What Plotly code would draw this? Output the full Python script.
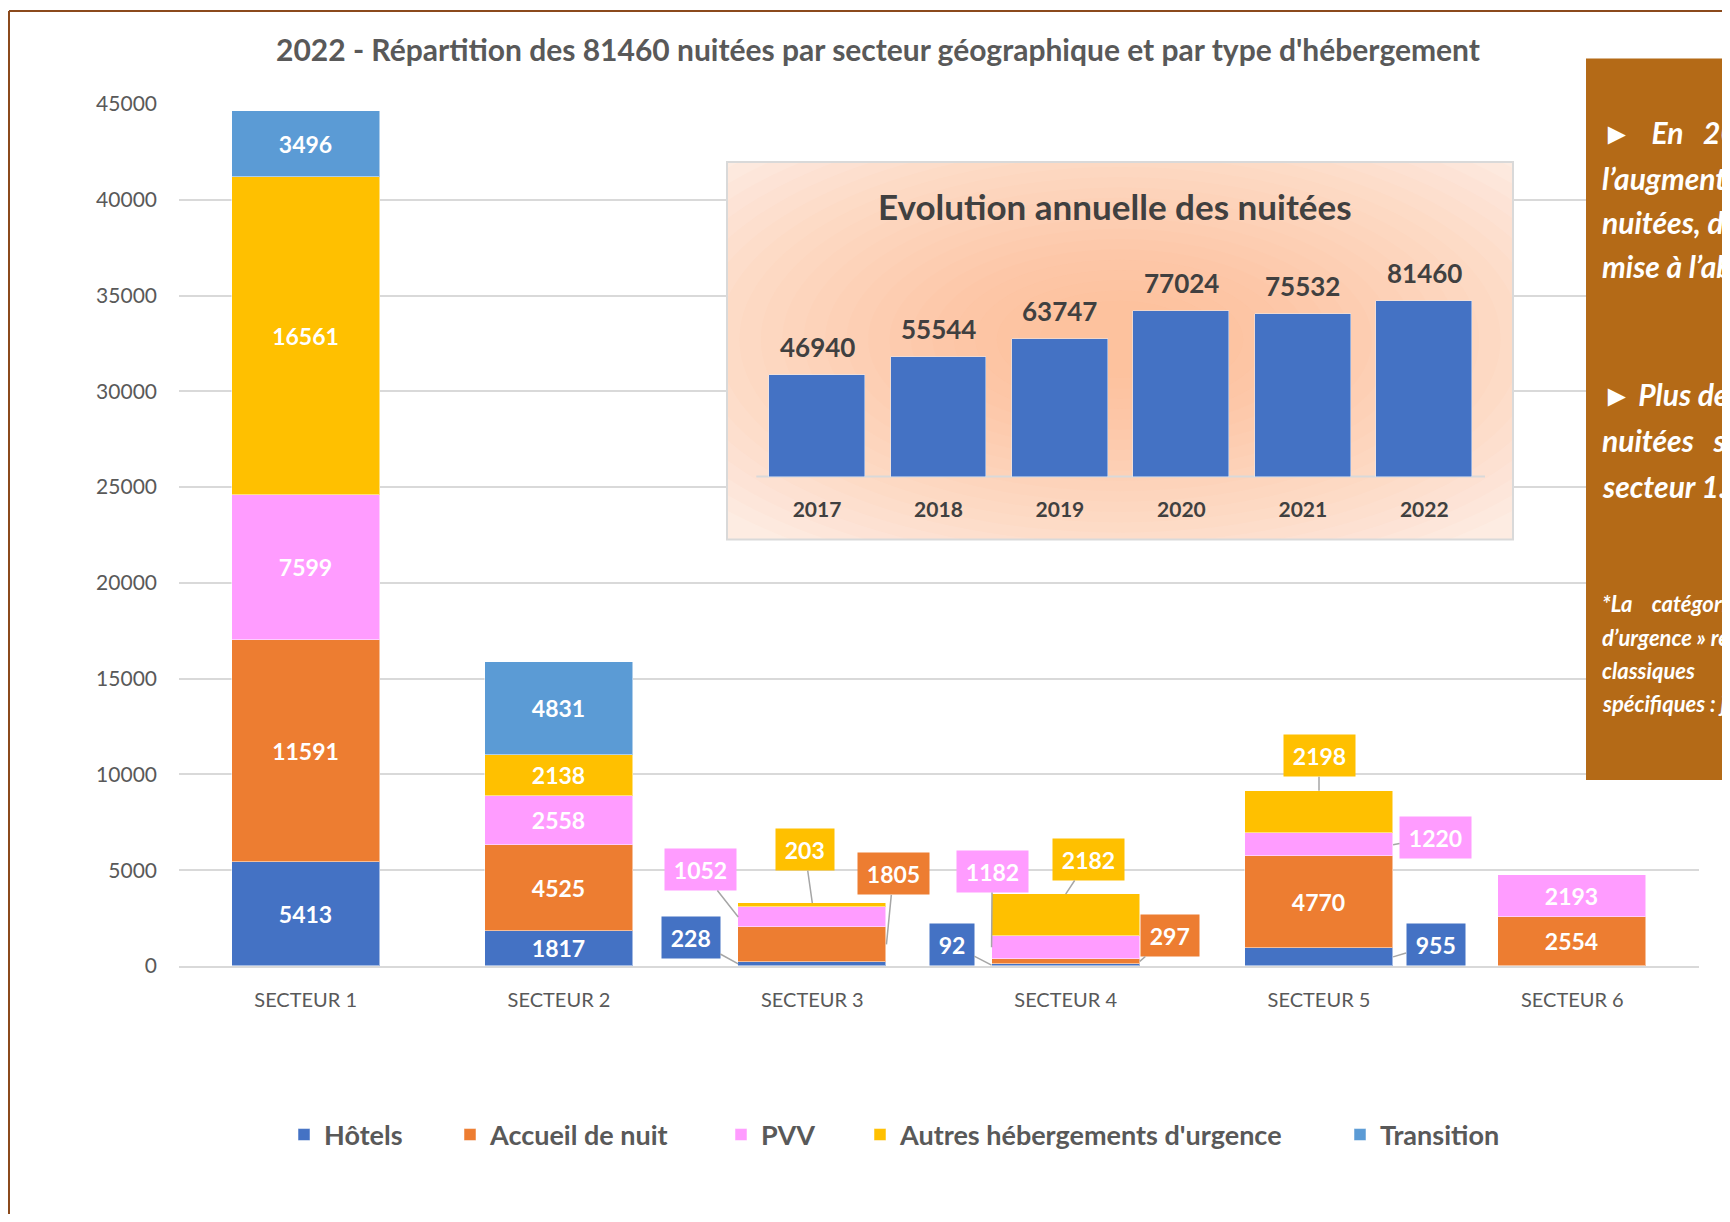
import plotly.graph_objects as go

# ------------------------------------------------------------------ data
categories = ["SECTEUR 1", "SECTEUR 2", "SECTEUR 3", "SECTEUR 4", "SECTEUR 5", "SECTEUR 6"]
hotels = [5413, 1817, 228, 92, 955, 0]
accueil_nuit = [11591, 4525, 1805, 297, 4770, 2554]
pvv = [7599, 2558, 1052, 1182, 1220, 2193]
autres_urgence = [16561, 2138, 203, 2182, 2198, 0]
transition = [3496, 4831, 0, 0, 0, 0]
series_names = ["Hôtels", "Accueil de nuit", "PVV", "Autres hébergements d'urgence", "Transition"]

years = ["2017", "2018", "2019", "2020", "2021", "2022"]
annual_nights = [46940, 55544, 63747, 77024, 75532, 81460]

y_ticks = [0, 5000, 10000, 15000, 20000, 25000, 30000, 35000, 40000, 45000]

panel_lines = [
    "►\u00a0\u00a0\u00a0En\u00a0\u00a0\u00a02022,\u00a0\u00a0\u00a0on\u00a0\u00a0\u00a0constate",
    "l’augmentation du nombre de",
    "nuitées, due notamment à la",
    "mise à l’abri hivernale.",
    "►\u00a0Plus de la moitié des",
    "nuitées\u00a0\u00a0\u00a0se\u00a0\u00a0\u00a0situent\u00a0\u00a0dans\u00a0\u00a0le",
    "secteur 1.",
]
note_lines = [
    "*La\u00a0\u00a0\u00a0\u00a0catégorie\u00a0\u00a0« Autres hébergements",
    "d’urgence » regroupe les hôtels",
    "classiques\u00a0\u00a0\u00a0\u00a0\u00a0\u00a0\u00a0\u00a0\u00a0\u00a0\u00a0et les hébergements",
    "spécifiques : jeunes, familles…",
]

# ------------------------------------------------------------------ style / geometry
OFF = 8                      # page margin of the html body
FW, FH = 1730 - OFF, 1222 - 2 * OFF
FONT = "Lato, 'Noto Sans', sans-serif"
GREY = "#595959"
DARK = "#404040"
GRID = "#D9D9D9"
colors = ["#4472C4", "#ED7D31", "#FF9CFF", "#FFC000", "#5B9BD5"]
legend_ids = ["legend", "legend2", "legend3", "legend4", "legend5"]
legend_sq_left = [298, 464, 735, 874, 1354]
BAR_W = 0.585


def fx(p):
    return (p - OFF) / FW


def fy(p):
    return 1 - (p - OFF) / FH


# callout labels: (series index, category index) -> (anchor side, box dx, box y in data units)
callouts = {
    (0, 2): ("left", -0.48, 1470),
    (2, 2): ("left", -0.44, 5040),
    (3, 2): ("top", -0.03, 6080),
    (1, 2): ("right", 0.32, 4810),
    (0, 3): ("left", -0.45, 1130),
    (2, 3): ("left", -0.29, 4930),
    (3, 3): ("top", 0.09, 5560),
    (1, 3): ("right", 0.41, 1590),
    (3, 4): ("top", 0.0, 10970),
    (2, 4): ("right", 0.46, 6710),
    (0, 4): ("right", 0.46, 1130),
}

series = [hotels, accueil_nuit, pvv, autres_urgence, transition]
total = sum(sum(s) for s in series)

fig = go.Figure()

# ------------------------------------------------------------------ main stacked bars
for k, (name, vals) in enumerate(zip(series_names, series)):
    text = ["" if ((k, i) in callouts or v == 0) else str(v) for i, v in enumerate(vals)]
    fig.add_trace(go.Bar(
        x=categories, y=[v if v else None for v in vals], name=name,
        marker=dict(color=colors[k], line=dict(color="rgba(255,255,255,0.5)", width=1)),
        width=BAR_W, text=text, textposition="inside", insidetextanchor="middle",
        textangle=0, constraintext="none",
        textfont=dict(family=FONT, size=23, color="white", weight="bold"),
        legend=legend_ids[k], hoverinfo="x+y+name",
    ))

annotations = []
for (k, i), (side, dx, by) in callouts.items():
    v = series[k][i]
    below = sum(series[j][i] for j in range(k))
    if side == "left":
        px, py = i - BAR_W / 2, below + v / 2
    elif side == "right":
        px, py = i + BAR_W / 2, below + v / 2
    else:
        px, py = i, below + v
    annotations.append(dict(
        x=px, y=py, xref="x", yref="y", ax=i + dx, ay=by, axref="x", ayref="y",
        text=str(v), showarrow=True, arrowhead=0, arrowwidth=1.5, arrowcolor="#A6A6A6",
        standoff=0, bgcolor=colors[k], borderpad=6, width=13.5 * len(str(v)) + 5, height=29,
        font=dict(family=FONT, size=23, color="white", weight="bold"),
    ))

# ------------------------------------------------------------------ inset (annual evolution)
box_l, box_r, box_t, box_b = 727, 1513, 162, 539.5
cat_px = 121.45
x_left_cat = 756.3           # pixel of category edge -0.5
base_px = 476.6              # pixel of inset baseline
val_px = 0.0021557           # pixels per unit in inset
xr0 = -0.5 - (x_left_cat - box_l) / cat_px
xr1 = xr0 + (box_r - box_l) / cat_px
yr0 = -(box_b - base_px) / val_px
yr1 = (base_px - box_t) / val_px

fig.add_trace(go.Bar(
    x=years, y=annual_nights, xaxis="x2", yaxis="y2", width=0.79,
    marker=dict(color="#4472C4"), showlegend=False, hoverinfo="x+y",
))
for i, v in enumerate(annual_nights):
    annotations.append(dict(
        x=i, y=v, xref="x2", yref="y2", text=str(v), showarrow=False,
        yanchor="middle", yshift=28,
        font=dict(family=FONT, size=26, color=DARK, weight="bold"),
    ))
annotations.append(dict(
    x=fx(1115), y=fy(206), xref="paper", yref="paper", text="Evolution annuelle des nuitées",
    showarrow=False, xanchor="center", yanchor="middle",
    font=dict(family=FONT, size=35, color=DARK, weight="bold"),
))

shapes = []
# inset background with a soft radial glow
shapes.append(dict(type="rect", xref="x2", yref="y2", x0=xr0, x1=xr1, y0=yr0, y1=yr1,
                   fillcolor="#FDECE2", line=dict(width=0), layer="below"))
cx, cy = (xr0 + xr1) / 2, (yr0 + yr1) / 2 + 0.03 * (yr1 - yr0)
n_glow = 22
for n in range(n_glow):
    s = 1.35 - n * (1.2 / n_glow)
    hw, hh = s * (xr1 - xr0) / 2, s * (yr1 - yr0) / 2
    shapes.append(dict(type="circle", xref="x2", yref="y2", x0=cx - hw, x1=cx + hw,
                       y0=cy - hh, y1=cy + hh, fillcolor="#F8AE7C", opacity=0.035,
                       line=dict(width=0), layer="below"))
shapes.append(dict(type="line", xref="x2", yref="y2", x0=-0.5, x1=5.5, y0=0, y1=0,
                   line=dict(color=GRID, width=2), layer="below"))
shapes.append(dict(type="rect", xref="paper", yref="paper", x0=fx(box_l), x1=fx(box_r),
                   y0=fy(box_b), y1=fy(box_t), line=dict(color=GRID, width=2),
                   fillcolor="rgba(0,0,0,0)", layer="above"))

# ------------------------------------------------------------------ side panel
shapes.append(dict(type="rect", xref="paper", yref="paper", x0=fx(1586), x1=1.05,
                   y0=fy(780), y1=fy(58.5), fillcolor="#B46A17", line=dict(width=0), layer="above"))
panel_y = [132, 177.5, 222, 266, 394, 440, 486]
for txt, ypx in zip(panel_lines, panel_y):
    annotations.append(dict(
        x=fx(1600), y=fy(ypx), xref="paper", yref="paper", text=txt, showarrow=False,
        xanchor="left", yanchor="middle",
        font=dict(family=FONT, size=30, color="white", weight="bold", style="italic"),
    ))
note_y = [603, 637, 670, 703]
for txt, ypx in zip(note_lines, note_y):
    annotations.append(dict(
        x=fx(1600), y=fy(ypx), xref="paper", yref="paper", text=txt, showarrow=False,
        xanchor="left", yanchor="middle",
        font=dict(family=FONT, size=22, color="white", weight="bold", style="italic"),
    ))

# outer frame (top and left edges)
shapes.append(dict(type="line", xref="paper", yref="paper", x0=fx(9), x1=1.0, y0=fy(11), y1=fy(11),
                   line=dict(color="#8B4A1C", width=2), layer="above"))
shapes.append(dict(type="line", xref="paper", yref="paper", x0=fx(9), x1=fx(9), y0=0, y1=fy(11),
                   line=dict(color="#8B4A1C", width=2), layer="above"))

# ------------------------------------------------------------------ layout
layout = dict(
    width=FW, height=FH, autosize=False,
    margin=dict(l=0, r=0, t=0, b=0),
    paper_bgcolor="white", plot_bgcolor="white",
    barmode="stack", bargap=0,
    font=dict(family=FONT, color=GREY),
    title=dict(
        text=f"2022 - Répartition des {total} nuitées par secteur géographique et par type d'hébergement",
        x=fx(878), y=fy(50), xref="paper", yref="paper", xanchor="center", yanchor="middle",
        font=dict(family=FONT, size=30, color=GREY, weight="bold"),
    ),
    xaxis=dict(
        domain=[fx(179), fx(1699)], range=[-0.5, 5.5], type="category",
        showline=True, linecolor=GRID, linewidth=2, showgrid=False, zeroline=False,
        ticks="", ticklabelstandoff=15, automargin=False,
        tickfont=dict(family=FONT, size=20, color=GREY),
    ),
    yaxis=dict(
        domain=[fy(966), fy(104)], range=[0, 45000], tickvals=y_ticks, tickformat="d",
        showgrid=True, gridcolor=GRID, gridwidth=2, zeroline=False, showline=False,
        ticks="", ticklabelstandoff=21, automargin=False,
        tickfont=dict(family=FONT, size=21, color=GREY),
    ),
    xaxis2=dict(
        domain=[fx(box_l), fx(box_r)], range=[xr0, xr1], type="category",
        anchor="free", position=fy(base_px), showline=False, showgrid=False, zeroline=False,
        ticks="", ticklabelstandoff=18, automargin=False,
        tickfont=dict(family=FONT, size=21, color=DARK, weight="bold"),
    ),
    yaxis2=dict(
        domain=[fy(box_b), fy(box_t)], range=[yr0, yr1], anchor="x2",
        visible=False, showgrid=False, zeroline=False, automargin=False,
    ),
    shapes=shapes,
    annotations=annotations,
    showlegend=True,
)
for k, lid in enumerate(legend_ids):
    layout[lid] = dict(
        x=fx(legend_sq_left[k] - 14), y=fy(1135), xanchor="left", yanchor="middle",
        orientation="h", bgcolor="rgba(0,0,0,0)", borderwidth=0,
        font=dict(family=FONT, size=27, color=GREY, weight="bold"),
    )

fig.update_layout(**layout)
fig.write_html("out.html")
